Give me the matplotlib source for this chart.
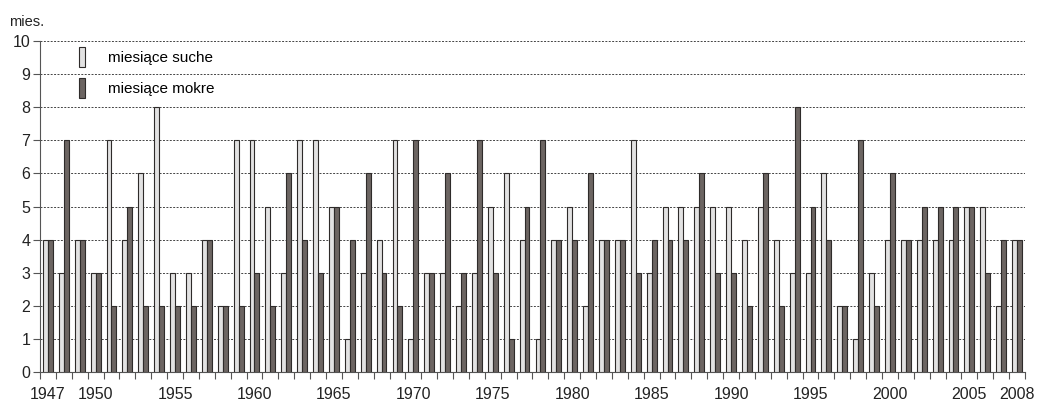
import numpy as np
import matplotlib.pyplot as plt
from matplotlib.patches import Patch

# Years and number of dry / wet months per year
years = list(range(1947, 2009))
dry = [4, 3, 4, 3, 7, 4, 6, 8, 3, 3,
       4, 2, 7, 7, 5, 3, 7, 7, 5, 1,
       3, 4, 7, 1, 3, 3, 2, 3, 5, 6,
       4, 1, 4, 5, 2, 4, 4, 7, 3, 5,
       5, 5, 5, 5, 4, 5, 4, 3, 3, 6,
       2, 1, 3, 4, 4, 4, 4, 4, 5, 5,
       2, 4]
wet = [4, 7, 4, 3, 2, 5, 2, 2, 2, 2,
       4, 2, 2, 3, 2, 6, 4, 3, 5, 4,
       6, 3, 2, 7, 3, 6, 3, 7, 3, 1,
       5, 7, 4, 4, 6, 4, 4, 3, 4, 4,
       4, 6, 3, 3, 2, 6, 2, 8, 5, 4,
       2, 7, 2, 6, 4, 5, 5, 5, 5, 3,
       4, 4]
labelled_years = [1947, 1950, 1955, 1960, 1965, 1970, 1975, 1980,
                  1985, 1990, 1995, 2000, 2005, 2008]
legend_labels = ['miesiące suche', 'miesiące mokre']

light = '#e2e2e2'
dark = '#6c6562'
edge = '#2e2b2a'

plt.rcParams['font.family'] = ['Liberation Sans', 'DejaVu Sans']

fig = plt.figure(figsize=(10.39, 4.01), dpi=100)
ax = fig.add_axes([0.0385, 0.072, 0.948, 0.826])

x = np.array(years)
w = 0.31
ax.bar(x - w / 2, dry, width=w, color=light, edgecolor=edge, linewidth=0.8, zorder=3)
ax.bar(x + w / 2, wet, width=w, color=dark, edgecolor=edge, linewidth=0.8, zorder=3)

ax.set_xlim(years[0] - 0.5, years[-1] + 0.5)
ax.set_ylim(0, 10)
ax.set_yticks(range(0, 11))
ax.yaxis.grid(True, linestyle=(0, (2, 1.5)), color='#444444', linewidth=0.7, zorder=0)

ax.set_xticks(labelled_years)
ax.set_xticklabels([str(y) for y in labelled_years])
ax.set_xticks(np.arange(years[0] - 0.5, years[-1] + 1.0, 1.0), minor=True)
ax.tick_params(axis='x', which='major', length=0, pad=11, labelsize=11.5, colors='#222222')
ax.tick_params(axis='x', which='minor', length=5, width=0.8, color='#555555')
ax.tick_params(axis='y', length=5, width=0.8, color='#555555', labelsize=11.5,
               labelcolor='#222222', pad=2)

for s in ['top', 'right']:
    ax.spines[s].set_visible(False)
ax.spines['left'].set_color('#555555')
ax.spines['bottom'].set_color('#555555')

fig.text(0.009, 0.935, 'mies.', fontsize=10.5, color='#222222')

handles = [Patch(facecolor=light, edgecolor=edge, linewidth=0.8),
           Patch(facecolor=dark, edgecolor=edge, linewidth=0.8)]
ax.legend(handles, legend_labels, loc='upper left', bbox_to_anchor=(0.033, 1.0),
          frameon=False, fontsize=11, handlelength=0.42, handleheight=1.6,
          handletextpad=1.5, labelspacing=0.75, borderaxespad=0)

fig.savefig('out.png', dpi=100)
